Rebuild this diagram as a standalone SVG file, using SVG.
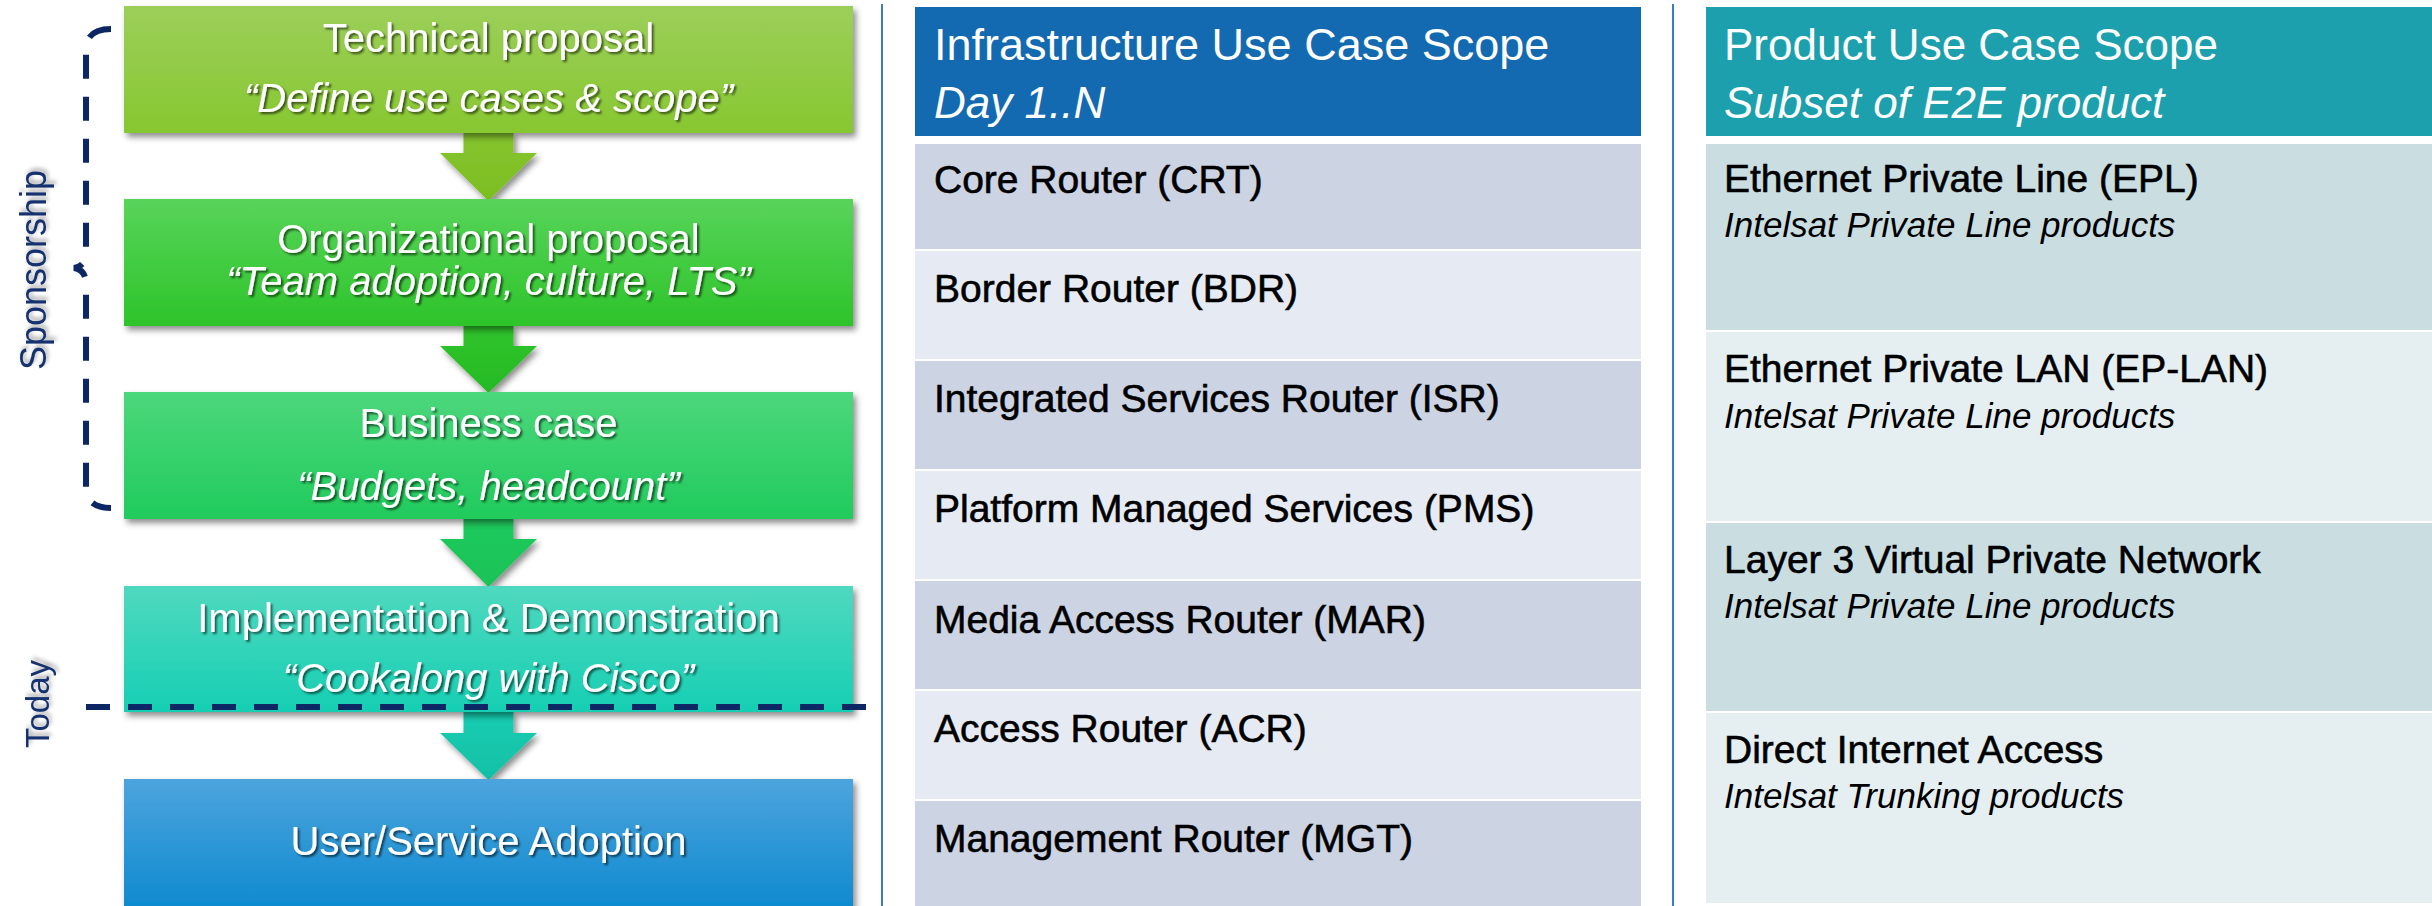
<svg xmlns="http://www.w3.org/2000/svg" width="2432" height="906" viewBox="0 0 2432 906">
  <defs>
    <linearGradient id="gTech" x1="0" y1="0" x2="0" y2="1"><stop offset="0" stop-color="#9CCF5A"/><stop offset="1" stop-color="#87C730"/></linearGradient>
    <linearGradient id="gOrg" x1="0" y1="0" x2="0" y2="1"><stop offset="0" stop-color="#58D45A"/><stop offset="1" stop-color="#2DC42A"/></linearGradient>
    <linearGradient id="gBiz" x1="0" y1="0" x2="0" y2="1"><stop offset="0" stop-color="#4CD77C"/><stop offset="1" stop-color="#20CB5C"/></linearGradient>
    <linearGradient id="gImpl" x1="0" y1="0" x2="0" y2="1"><stop offset="0" stop-color="#4FD9BF"/><stop offset="1" stop-color="#16CFB3"/></linearGradient>
    <linearGradient id="gUser" x1="0" y1="0" x2="0" y2="1"><stop offset="0" stop-color="#4DA4DD"/><stop offset="1" stop-color="#0988CE"/></linearGradient>
    <linearGradient id="aTech" x1="0" y1="0" x2="0" y2="1"><stop offset="0" stop-color="#86C42E"/><stop offset="1" stop-color="#7CBE22"/></linearGradient>
    <linearGradient id="aOrg" x1="0" y1="0" x2="0" y2="1"><stop offset="0" stop-color="#2FC42B"/><stop offset="1" stop-color="#26BA24"/></linearGradient>
    <linearGradient id="aBiz" x1="0" y1="0" x2="0" y2="1"><stop offset="0" stop-color="#20CA5C"/><stop offset="1" stop-color="#1BC257"/></linearGradient>
    <linearGradient id="aImpl" x1="0" y1="0" x2="0" y2="1"><stop offset="0" stop-color="#15CDB1"/><stop offset="1" stop-color="#11C0A6"/></linearGradient>
    <filter id="boxShadow" x="-5%" y="-10%" width="115%" height="130%">
      <feDropShadow dx="3" dy="4" stdDeviation="3" flood-color="#000" flood-opacity="0.45"/>
    </filter>
    <filter id="textShadow" x="-5%" y="-20%" width="115%" height="150%">
      <feDropShadow dx="2" dy="2" stdDeviation="1.2" flood-color="#000" flood-opacity="0.6"/>
    </filter>
    <filter id="labelShadow" x="-20%" y="-10%" width="150%" height="130%">
      <feDropShadow dx="3" dy="2" stdDeviation="2" flood-color="#000" flood-opacity="0.35"/>
    </filter>
  </defs>
  <style>
    .step { font-family: "Liberation Sans", Arial, sans-serif; font-size: 40px; fill: #FFFFFF; text-anchor: middle; }
    .quote { font-style: italic; }
    .side { font-family: "Liberation Sans", Arial, sans-serif; font-size: 33px; fill: #14306E; text-anchor: middle; }
    .side-big { font-size: 36px; }
    .hdr { font-family: "Liberation Sans", Arial, sans-serif; font-size: 44px; fill: #FFFFFF; }
    .hdr-wide { font-size: 45px; }
    .hdr-sub { font-style: italic; font-size: 44px; }
    .row { font-family: "Liberation Sans", Arial, sans-serif; font-size: 39px; fill: #000000; stroke: #000000; stroke-width: 0.6; }
    .row-sub { font-family: "Liberation Sans", Arial, sans-serif; font-size: 35px; font-style: italic; fill: #000000; }
    .infra-dark { fill: #CCD3E3; }
    .infra-light { fill: #E6EBF3; }
    .prod-dark { fill: #CADEE2; }
    .prod-light { fill: #E5EFF2; }
    .divider { stroke: #3B7BC8; stroke-width: 2; fill: none; }
    .navy-dash { stroke: #0C2763; stroke-width: 6; fill: none; stroke-dasharray: 24 18; }
  </style>

  <rect x="0" y="0" width="2432" height="906" fill="#FFFFFF"/>

  <!-- column dividers -->
  <line class="divider" x1="882" y1="4" x2="882" y2="906"/>
  <line class="divider" x1="1673" y1="4" x2="1673" y2="906"/>

  <!-- flow arrows between the steps -->
  <g id="connectors" filter="url(#boxShadow)">
    <path d="M463.5,132 H513.5 V153 H537 L488.5,201 L440,153 H463.5 Z" fill="url(#aTech)"/>
    <path d="M463.5,325 H513.5 V346 H537 L488.5,393 L440,346 H463.5 Z" fill="url(#aOrg)"/>
    <path d="M463.5,518 H513.5 V539 H537 L488.5,587 L440,539 H463.5 Z" fill="url(#aBiz)"/>
    <path d="M463.5,711 H513.5 V733 H537 L488.5,780 L440,733 H463.5 Z" fill="url(#aImpl)"/>
  </g>

  <!-- process steps -->
  <g id="technical-proposal">
    <rect x="124" y="6" width="729" height="127" fill="url(#gTech)" filter="url(#boxShadow)"/>
    <g filter="url(#textShadow)">
      <text class="step" x="488.5" y="52">Technical proposal</text>
      <text class="step quote" x="488.5" y="112">“Define use cases &amp; scope”</text>
    </g>
  </g>
  <g id="organizational-proposal">
    <rect x="124" y="199" width="729" height="127" fill="url(#gOrg)" filter="url(#boxShadow)"/>
    <g filter="url(#textShadow)">
      <text class="step" x="488.5" y="253">Organizational proposal</text>
      <text class="step quote" x="488.5" y="295">“Team adoption, culture, LTS”</text>
    </g>
  </g>
  <g id="business-case">
    <rect x="124" y="392" width="729" height="127" fill="url(#gBiz)" filter="url(#boxShadow)"/>
    <g filter="url(#textShadow)">
      <text class="step" x="488.5" y="437">Business case</text>
      <text class="step quote" x="488.5" y="500">“Budgets, headcount”</text>
    </g>
  </g>
  <g id="implementation">
    <rect x="124" y="586" width="729" height="126" fill="url(#gImpl)" filter="url(#boxShadow)"/>
    <g filter="url(#textShadow)">
      <text class="step" x="488.5" y="632">Implementation &amp; Demonstration</text>
      <text class="step quote" x="488.5" y="692">“Cookalong with Cisco”</text>
    </g>
  </g>
  <g id="user-adoption">
    <rect x="124" y="779" width="729" height="140" fill="url(#gUser)" filter="url(#boxShadow)"/>
    <g filter="url(#textShadow)">
      <text class="step" x="488.5" y="855">User/Service Adoption</text>
    </g>
  </g>

  <!-- sponsorship brace -->
  <g id="sponsorship">
    <path class="navy-dash" d="M111,29 Q88,29 86,47 L86,252 Q86,266 74,268 Q86,270 86,284 L86,490 Q88,508 111,508"/>
    <text class="side side-big" transform="translate(46,270) rotate(-90)" filter="url(#labelShadow)">Sponsorship</text>
  </g>

  <!-- today marker -->
  <g id="today">
    <line class="navy-dash" x1="86" y1="707" x2="866" y2="707"/>
    <text class="side" transform="translate(49,704) rotate(-90)" filter="url(#labelShadow)">Today</text>
  </g>

  <!-- infrastructure scope table -->
  <g id="infrastructure-scope">
    <rect x="915" y="7" width="726" height="129" fill="#136AB0"/>
    <text class="hdr hdr-wide" x="934" y="60">Infrastructure Use Case Scope</text>
    <text class="hdr hdr-sub" x="934" y="118">Day 1..N</text>
  </g>
  <g id="infra-crt">
    <rect class="infra-dark" x="915" y="144" width="726" height="105"/>
    <text class="row" x="934" y="193">Core Router (CRT)</text>
  </g>
  <g id="infra-bdr">
    <rect class="infra-light" x="915" y="251" width="726" height="108"/>
    <text class="row" x="934" y="302">Border Router (BDR)</text>
  </g>
  <g id="infra-isr">
    <rect class="infra-dark" x="915" y="361" width="726" height="108"/>
    <text class="row" x="934" y="412">Integrated Services Router (ISR)</text>
  </g>
  <g id="infra-pms">
    <rect class="infra-light" x="915" y="471" width="726" height="108"/>
    <text class="row" x="934" y="522">Platform Managed Services (PMS)</text>
  </g>
  <g id="infra-mar">
    <rect class="infra-dark" x="915" y="581" width="726" height="108"/>
    <text class="row" x="934" y="633">Media Access Router (MAR)</text>
  </g>
  <g id="infra-acr">
    <rect class="infra-light" x="915" y="691" width="726" height="108"/>
    <text class="row" x="934" y="742">Access Router (ACR)</text>
  </g>
  <g id="infra-mgt">
    <rect class="infra-dark" x="915" y="801" width="726" height="105"/>
    <text class="row" x="934" y="852">Management Router (MGT)</text>
  </g>

  <!-- product scope table -->
  <g id="product-scope">
    <rect x="1706" y="7" width="726" height="129" fill="#1CA0AE"/>
    <text class="hdr" x="1724" y="60">Product Use Case Scope</text>
    <text class="hdr hdr-sub" x="1724" y="118">Subset of E2E product</text>
  </g>
  <g id="product-epl">
    <rect class="prod-dark" x="1706" y="144" width="726" height="186"/>
    <text class="row" x="1724" y="192">Ethernet Private Line (EPL)</text>
    <text class="row-sub" x="1724" y="237">Intelsat Private Line products</text>
  </g>
  <g id="product-eplan">
    <rect class="prod-light" x="1706" y="332" width="726" height="189"/>
    <text class="row" x="1724" y="382">Ethernet Private LAN (EP-LAN)</text>
    <text class="row-sub" x="1724" y="428">Intelsat Private Line products</text>
  </g>
  <g id="product-l3vpn">
    <rect class="prod-dark" x="1706" y="523" width="726" height="188"/>
    <text class="row" x="1724" y="573">Layer 3 Virtual Private Network</text>
    <text class="row-sub" x="1724" y="618">Intelsat Private Line products</text>
  </g>
  <g id="product-dia">
    <rect class="prod-light" x="1706" y="713" width="726" height="190"/>
    <text class="row" x="1724" y="763">Direct Internet Access</text>
    <text class="row-sub" x="1724" y="808">Intelsat Trunking products</text>
  </g>
</svg>
